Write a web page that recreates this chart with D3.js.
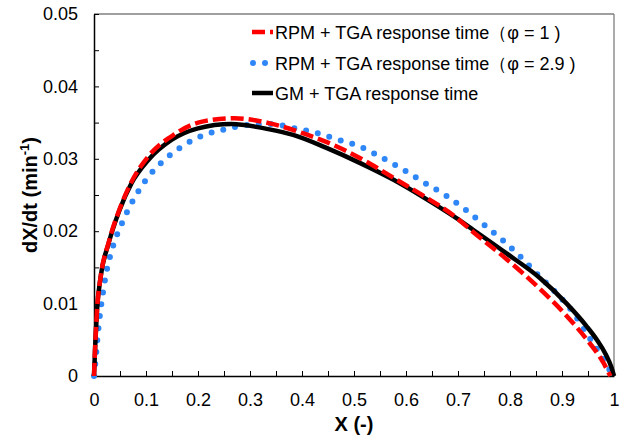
<!DOCTYPE html>
<html>
<head>
<meta charset="utf-8">
<script src="https://cdn.jsdelivr.net/npm/d3@7"></script>
<style>
  body { margin: 0; background: #fff; }
  svg { font-family: "Liberation Sans", Arial, sans-serif; }
</style>
</head>
<body>
<div id="chart"></div>
<script>

// series: GM + TGA response time
const gmX = [0, 0.0025, 0.0058, 0.0128, 0.028, 0.049, 0.072, 0.104, 0.149, 0.2, 0.264, 0.335, 0.383, 0.447, 0.512, 0.576, 0.64, 0.697, 0.729, 0.794, 0.858, 0.909, 0.947, 0.967, 0.984, 0.995, 1];
const gmY = [0, 0.0045, 0.0091, 0.0137, 0.0183, 0.0229, 0.0266, 0.0298, 0.0326, 0.0342, 0.0348, 0.0341, 0.0333, 0.0315, 0.0294, 0.0271, 0.0244, 0.0218, 0.0202, 0.0169, 0.0135, 0.0100, 0.0069, 0.0050, 0.0030, 0.0012, 0];

// series: RPM + TGA response time (phi = 1)
const rpm1X = [0, 0.0025, 0.0058, 0.0128, 0.028, 0.049, 0.072, 0.104, 0.155, 0.206, 0.27, 0.338, 0.403, 0.467, 0.524, 0.582, 0.64, 0.691, 0.729, 0.794, 0.858, 0.909, 0.947, 0.979, 0.993];
const rpm1Y = [0, 0.0045, 0.0091, 0.0137, 0.0184, 0.0230, 0.0268, 0.0303, 0.0334, 0.0351, 0.0356, 0.0349, 0.0335, 0.0317, 0.0296, 0.0271, 0.0246, 0.0222, 0.0199, 0.0161, 0.0120, 0.0083, 0.0051, 0.0019, 0];

// series: RPM + TGA response time (phi = 2.9)
const rpm29X = [0, 0.0025, 0.0064, 0.0205, 0.0365, 0.0526, 0.077, 0.102, 0.133, 0.169, 0.208, 0.253, 0.299, 0.342, 0.387, 0.422, 0.467, 0.508, 0.55, 0.595, 0.633, 0.675, 0.712, 0.755, 0.79, 0.824, 0.856, 0.887, 0.922, 0.947, 0.973, 0.992, 1];
const rpm29Y = [0, 0.0017, 0.0050, 0.0130, 0.0179, 0.0209, 0.0245, 0.0273, 0.0297, 0.0317, 0.0332, 0.0341, 0.0347, 0.0348, 0.0342, 0.0337, 0.0327, 0.0318, 0.0303, 0.0285, 0.0268, 0.0250, 0.0231, 0.0206, 0.0185, 0.0162, 0.0138, 0.0116, 0.0087, 0.0059, 0.0031, 0.0008, 0];

// ticks
const xTickValues = [0, 0.1, 0.2, 0.3, 0.4, 0.5, 0.6, 0.7, 0.8, 0.9, 1];
const xTickLabels = ["0", "0.1", "0.2", "0.3", "0.4", "0.5", "0.6", "0.7", "0.8", "0.9", "1"];
const xMinorTicks = [0.05, 0.15, 0.25, 0.35, 0.45, 0.55, 0.65, 0.75, 0.85, 0.95];
const yTickValues = [0, 0.01, 0.02, 0.03, 0.04, 0.05];
const yTickLabels = ["0", "0.01", "0.02", "0.03", "0.04", "0.05"];
const yMinorTicks = [0.005, 0.015, 0.025, 0.035, 0.045];

const legendLabels = ["RPM + TGA response time\uFF08\u03C6 = 1 )", "RPM + TGA response time\uFF08\u03C6 = 2.9 )", "GM + TGA response time"];

// chart margin definition
const width = 631, height = 440;
const margin = {top: 14, right: 17, bottom: 64, left: 94};
const plotW = width - margin.left - margin.right;
const plotH = height - margin.top - margin.bottom;

const svg = d3.select("#chart").append("svg")
    .attr("width", width)
    .attr("height", height);

const g = svg.append("g")
    .attr("transform", "translate(" + margin.left + "," + margin.top + ")");

// scales
const xScale = d3.scaleLinear().domain([0, 1]).range([0, plotW]);
const yScale = d3.scaleLinear().domain([0, 0.05]).range([plotH, 0]);

// grey frame on top / right
g.append("line").attr("x1", 0).attr("x2", plotW).attr("y1", 0).attr("y2", 0)
    .attr("stroke", "#7f7f7f").attr("stroke-width", 1.3);
g.append("line").attr("x1", plotW).attr("x2", plotW).attr("y1", 0).attr("y2", plotH)
    .attr("stroke", "#7f7f7f").attr("stroke-width", 1.3);

// minor ticks
g.append("g")
    .attr("transform", "translate(0," + plotH + ")")
    .call(d3.axisBottom(xScale).tickValues(xMinorTicks).tickSize(-5).tickFormat(""))
    .call(a => a.select(".domain").remove());
g.append("g")
    .call(d3.axisLeft(yScale).tickValues(yMinorTicks).tickSize(-5).tickFormat(""))
    .call(a => a.select(".domain").remove());

// major axes
const xAxis = g.append("g")
    .attr("transform", "translate(0," + plotH + ")")
    .call(d3.axisBottom(xScale).tickValues(xTickValues).tickSizeInner(-5).tickSizeOuter(0)
        .tickPadding(17).tickFormat((d, i) => xTickLabels[i]));
const yAxis = g.append("g")
    .call(d3.axisLeft(yScale).tickValues(yTickValues).tickSizeInner(-5).tickSizeOuter(0)
        .tickPadding(16).tickFormat((d, i) => yTickLabels[i]));

[xAxis, yAxis].forEach(a => {
    a.selectAll("text").attr("font-size", 18).attr("fill", "#000")
        .attr("font-family", "Liberation Sans, Arial, sans-serif");
    a.select(".domain").attr("stroke-width", 1.5);
});
svg.selectAll(".tick line").attr("stroke", "#000").attr("stroke-width", 1);

// line generator
const line = d3.line()
    .x(d => xScale(d[0]))
    .y(d => yScale(d[1]))
    .curve(d3.curveMonotoneX);

const zip = (xs, ys) => xs.map((x, i) => [x, ys[i]]);

g.append("path")
    .datum(zip(rpm29X, rpm29Y))
    .attr("fill", "none")
    .attr("stroke", "#2f86f6")
    .attr("stroke-width", 6)
    .attr("stroke-linecap", "round")
    .attr("stroke-dasharray", "0,12")
    .attr("d", line);

g.append("path")
    .datum(zip(gmX, gmY))
    .attr("fill", "none")
    .attr("stroke", "#000")
    .attr("stroke-width", 4.5)
    .attr("d", line);

g.append("path")
    .datum(zip(rpm1X, rpm1Y))
    .attr("fill", "none")
    .attr("stroke", "#ff0000")
    .attr("stroke-width", 4.5)
    .attr("stroke-dasharray", "13,5")
    .attr("d", line);

// legend
const legend = svg.append("g").attr("transform", "translate(252,0)");
const legendRows = [
    {y: 32, stroke: "#ff0000", width: 4.5, dash: "13,5", cap: "butt"},
    {y: 63, stroke: "#2f86f6", width: 6, dash: "0,12", cap: "round"},
    {y: 93, stroke: "#000", width: 4.5, dash: null, cap: "butt"}
];
legendRows.forEach((r, i) => {
    legend.append("line")
        .attr("x1", r.cap === "round" ? 1 : 0).attr("x2", 21)
        .attr("y1", r.y).attr("y2", r.y)
        .attr("stroke", r.stroke).attr("stroke-width", r.width)
        .attr("stroke-linecap", r.cap)
        .attr("stroke-dasharray", r.dash);
    legend.append("text")
        .attr("x", 23).attr("y", r.y + 6.5)
        .attr("font-size", 18)
        .text(legendLabels[i]);
});

// axis titles
svg.append("text")
    .attr("x", margin.left + plotW / 2).attr("y", 431)
    .attr("text-anchor", "middle")
    .attr("font-size", 20).attr("font-weight", "bold")
    .text("X (-)");

const yTitle = svg.append("text")
    .attr("transform", "translate(37,195) rotate(-90)")
    .attr("text-anchor", "middle")
    .attr("font-size", 20).attr("font-weight", "bold");
yTitle.append("tspan").text("dX/dt (min");
yTitle.append("tspan").attr("dy", -8).attr("font-size", 13).text("-1");
yTitle.append("tspan").attr("dy", 8).text(")");

</script>
</body>
</html>
